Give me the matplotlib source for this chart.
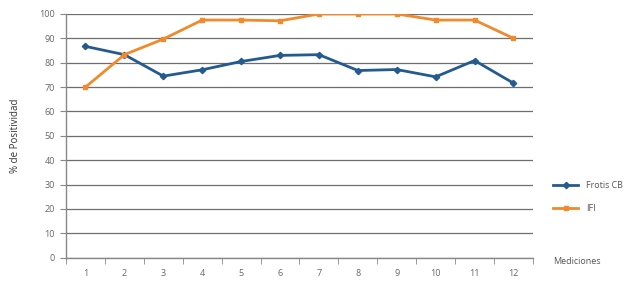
import matplotlib
matplotlib.use("Agg")
import matplotlib.pyplot as plt
import numpy as np

categories = ["1", "2", "3", "4", "5", "6", "7", "8", "9", "10", "11", "12"]
frotis_cb = [86.7, 83.3, 74.5, 77.1, 80.5, 83.0, 83.3, 76.8, 77.2, 74.2, 80.9, 71.6]
ifi = [70.0, 83.3, 89.7, 97.5, 97.5, 97.2, 100.0, 100.0, 100.0, 97.5, 97.5, 90.0]
yticks = [0, 10, 20, 30, 40, 50, 60, 70, 80, 90, 100]

plt.rcParams['font.family'] = ['Open Sans', 'DejaVu Sans']
fig = plt.figure(figsize=(6.27, 2.85), dpi=100)
ax = fig.add_axes([0.1053, 0.0958, 0.7447, 0.8552])

x = np.arange(len(categories))
blue = "#245B8F"
orange = "#F08A2C"
ax.plot(x, frotis_cb, color=blue, lw=2, marker="D", ms=3.2, label="Frotis CB", zorder=3)
ax.plot(x, ifi, color=orange, lw=2, marker="s", ms=3.2, label="IFI", zorder=3)

ax.set_xlim(-0.5, len(categories) - 0.5)
ax.set_ylim(0, 100)
ax.set_yticks(yticks)
ax.set_yticklabels([str(v) for v in yticks])
ax.set_xticks(x)
ax.set_xticklabels(categories)
ax.set_xticks(np.arange(-0.5, len(categories), 1), minor=True)
ax.tick_params(axis='x', which='major', length=0, pad=8, labelsize=6.5, labelcolor="#666666")
ax.tick_params(axis='x', which='minor', length=4, color="#888888", direction="out")
ax.tick_params(axis='y', length=4, color="#888888", labelsize=6.5, labelcolor="#666666", pad=4)

ax.grid(axis='y', color="#6e6e6e", lw=0.9, zorder=0)
ax.set_axisbelow(True)
for s in ["top", "right"]:
    ax.spines[s].set_visible(False)
for s in ["left", "bottom"]:
    ax.spines[s].set_color("#888888")
    ax.spines[s].set_linewidth(1)

ax.set_ylabel("% de Positividad", fontsize=7, color="#333333", labelpad=13)
fig.text(553 / 627, 1 - 261 / 285, "Mediciones", fontsize=6.5, color="#555555", va="center", ha="left")

leg = ax.legend(loc="center left", bbox_to_anchor=(1.025, 0.25), frameon=False, fontsize=6.4,
                labelspacing=1.6, handlelength=2.9, handletextpad=0.9)
for t in leg.get_texts():
    t.set_color("#555555")

fig.savefig("out.png", dpi=100)
